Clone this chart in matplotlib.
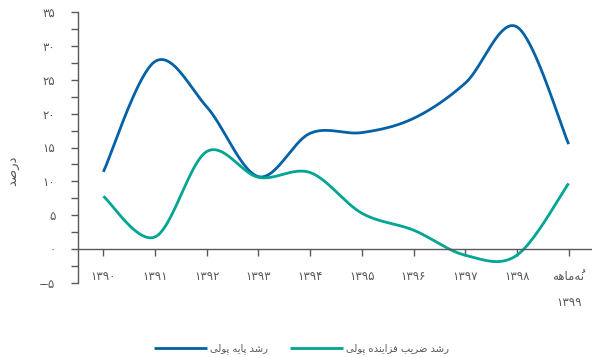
import matplotlib
matplotlib.use("Agg")
import matplotlib.pyplot as plt
import numpy as np

# ---------------- data ----------------
x_labels = ["۱۳۹۰", "۱۳۹۱", "۱۳۹۲", "۱۳۹۳", "۱۳۹۴", "۱۳۹۵", "۱۳۹۶", "۱۳۹۷", "۱۳۹۸", "نُه‌ماهه\n۱۳۹۹"]
base_money = [11.4, 27.7, 21.0, 10.7, 17.1, 17.2, 19.3, 24.5, 32.8, 15.5]
multiplier = [7.8, 1.8, 14.4, 10.6, 11.3, 5.3, 2.8, -0.9, -0.9, 9.7]
series_names = ["رشد پایه پولی", "رشد ضریب فزاینده پولی"]
y_label = "درصد"
y_ticks = [-5, 0, 5, 10, 15, 20, 25, 30, 35]

# ---------------- minimal Arabic/Persian shaping ----------------
FORMS = {
    "\u0627": (0xFE8D, 0xFE8E),
    "\u0628": (0xFE8F, 0xFE90, 0xFE91, 0xFE92),
    "\u067E": (0xFB56, 0xFB57, 0xFB58, 0xFB59),
    "\u062F": (0xFEA9, 0xFEAA),
    "\u0631": (0xFEAD, 0xFEAE),
    "\u0632": (0xFEAF, 0xFEB0),
    "\u0634": (0xFEB5, 0xFEB6, 0xFEB7, 0xFEB8),
    "\u0635": (0xFEB9, 0xFEBA, 0xFEBB, 0xFEBC),
    "\u0636": (0xFEBD, 0xFEBE, 0xFEBF, 0xFEC0),
    "\u0641": (0xFED1, 0xFED2, 0xFED3, 0xFED4),
    "\u0644": (0xFEDD, 0xFEDE, 0xFEDF, 0xFEE0),
    "\u0645": (0xFEE1, 0xFEE2, 0xFEE3, 0xFEE4),
    "\u0646": (0xFEE5, 0xFEE6, 0xFEE7, 0xFEE8),
    "\u0647": (0xFEE9, 0xFEEA, 0xFEEB, 0xFEEC),
    "\u0648": (0xFEED, 0xFEEE),
    "\u06CC": (0xFBFC, 0xFBFD, 0xFBFE, 0xFBFF),
}
MARKS = {"\u064E", "\u064F", "\u0650", "\u0651", "\u0652"}


def shape_line(s):
    chars = list(s)
    n = len(chars)

    def neighbor(i, step):
        j = i + step
        while 0 <= j < n and chars[j] in MARKS:
            j += step
        return chars[j] if 0 <= j < n else None

    out = []
    for i, c in enumerate(chars):
        if c in FORMS:
            f = FORMS[c]
            p = neighbor(i, -1)
            nx = neighbor(i, 1)
            jp = p in FORMS and len(FORMS[p]) == 4
            jn = len(f) == 4 and nx in FORMS
            if jp and jn:
                g = f[3]
            elif jp:
                g = f[1]
            elif jn:
                g = f[2]
            else:
                g = f[0]
            out.append(chr(g))
        elif c == "\u200C":
            continue
        else:
            out.append(c)
    # visual reorder: clusters (marks + base), digit runs stay LTR
    clusters = []
    for c in out:
        if c in MARKS and clusters:
            clusters[-1] = c + clusters[-1]
        else:
            clusters.append(c)
    tokens = []
    for cl in clusters:
        base = cl[-1]
        isdig = "\u06F0" <= base <= "\u06F9" or base.isdigit()
        if tokens and isdig and tokens[-1][0] == "d":
            tokens[-1][1].append(cl)
        elif isdig:
            tokens.append(["d", [cl]])
        else:
            tokens.append(["a", [cl]])
    res = []
    for kind, cls in reversed(tokens):
        res.extend(cls)
    return "".join(res)


def shape(s):
    return "\n".join(shape_line(l) for l in s.split("\n"))


def fa_num(v):
    digits = "۰۱۲۳۴۵۶۷۸۹"
    t = str(abs(int(v)))
    t = "".join(digits[int(d)] for d in t)
    return ("−" + t) if v < 0 else t


def smooth(xs, ys, n=40):
    xs = np.asarray(xs, float)
    ys = np.asarray(ys, float)
    px = np.concatenate([[xs[0]], xs, [xs[-1]]])
    py = np.concatenate([[ys[0]], ys, [ys[-1]]])
    ox, oy = [], []
    t = np.linspace(0, 1, n)
    for i in range(1, len(px) - 2):
        p0 = np.array([px[i], py[i]])
        p3 = np.array([px[i + 1], py[i + 1]])
        p1 = p0 + (np.array([px[i + 1], py[i + 1]]) - np.array([px[i - 1], py[i - 1]])) / 6
        p2 = p3 - (np.array([px[i + 2], py[i + 2]]) - np.array([px[i], py[i]])) / 6
        b = ((1 - t) ** 3)[:, None] * p0 + (3 * (1 - t) ** 2 * t)[:, None] * p1 \
            + (3 * (1 - t) * t ** 2)[:, None] * p2 + (t ** 3)[:, None] * p3
        ox.extend(b[:, 0])
        oy.extend(b[:, 1])
    return np.array(ox), np.array(oy)


# ---------------- plot ----------------
plt.rcParams["font.family"] = ["DejaVu Sans"]
GRAY = "#595959"
BLUE = "#0361a6"
TEAL = "#00a594"

fig = plt.figure(figsize=(5.92, 3.57), dpi=100)
ax = fig.add_axes([77.5 / 592, 74 / 357, 517 / 592, 271 / 357])

xs = np.arange(len(x_labels))
sx, sy = smooth(xs, base_money)
ax.plot(sx, sy, color=BLUE, lw=2.0, solid_capstyle="butt", label=shape(series_names[0]))
sx, sy = smooth(xs, multiplier)
ax.plot(sx, sy, color=TEAL, lw=2.0, solid_capstyle="butt", label=shape(series_names[1]))

ax.set_xlim(-0.5, 9.5)
ax.set_ylim(-5, 35)

for s in ["top", "right"]:
    ax.spines[s].set_visible(False)
ax.spines["bottom"].set_position(("data", 0))
ax.spines["bottom"].set_color(GRAY)
ax.spines["bottom"].set_linewidth(1.0)
ax.spines["left"].set_color(GRAY)
ax.spines["left"].set_linewidth(1.0)

ax.set_yticks(y_ticks)
ax.set_yticklabels([fa_num(v) for v in y_ticks])
ax.set_yticks(np.arange(-2.5, 35, 5), minor=True)
ax.tick_params(axis="y", which="both", direction="out", length=5, width=1, color=GRAY,
               labelcolor=GRAY, labelsize=8.5, pad=11)

ax.set_xticks(xs)
ax.set_xticklabels([shape(l) for l in x_labels])
ax.tick_params(axis="x", direction="out", length=5, width=1, color=GRAY,
               labelcolor=GRAY, labelsize=8.5, pad=10)
for lab in ax.get_xticklabels():
    lab.set_linespacing(2.3)
    lab.set_verticalalignment("top")

ax.set_ylabel(shape(y_label), color=GRAY, fontsize=9.5, rotation=90)
ax.yaxis.set_label_coords((19 - 77.5) / 517, (283 - 171) / 271)

leg = fig.legend(loc="center", bbox_to_anchor=(301.5 / 592, 1 - 349 / 357), ncol=2,
                 frameon=False, fontsize=7.2, handlelength=5.3, handletextpad=0.3,
                 columnspacing=2.2, labelcolor=GRAY)

fig.savefig("out.png", dpi=100)
